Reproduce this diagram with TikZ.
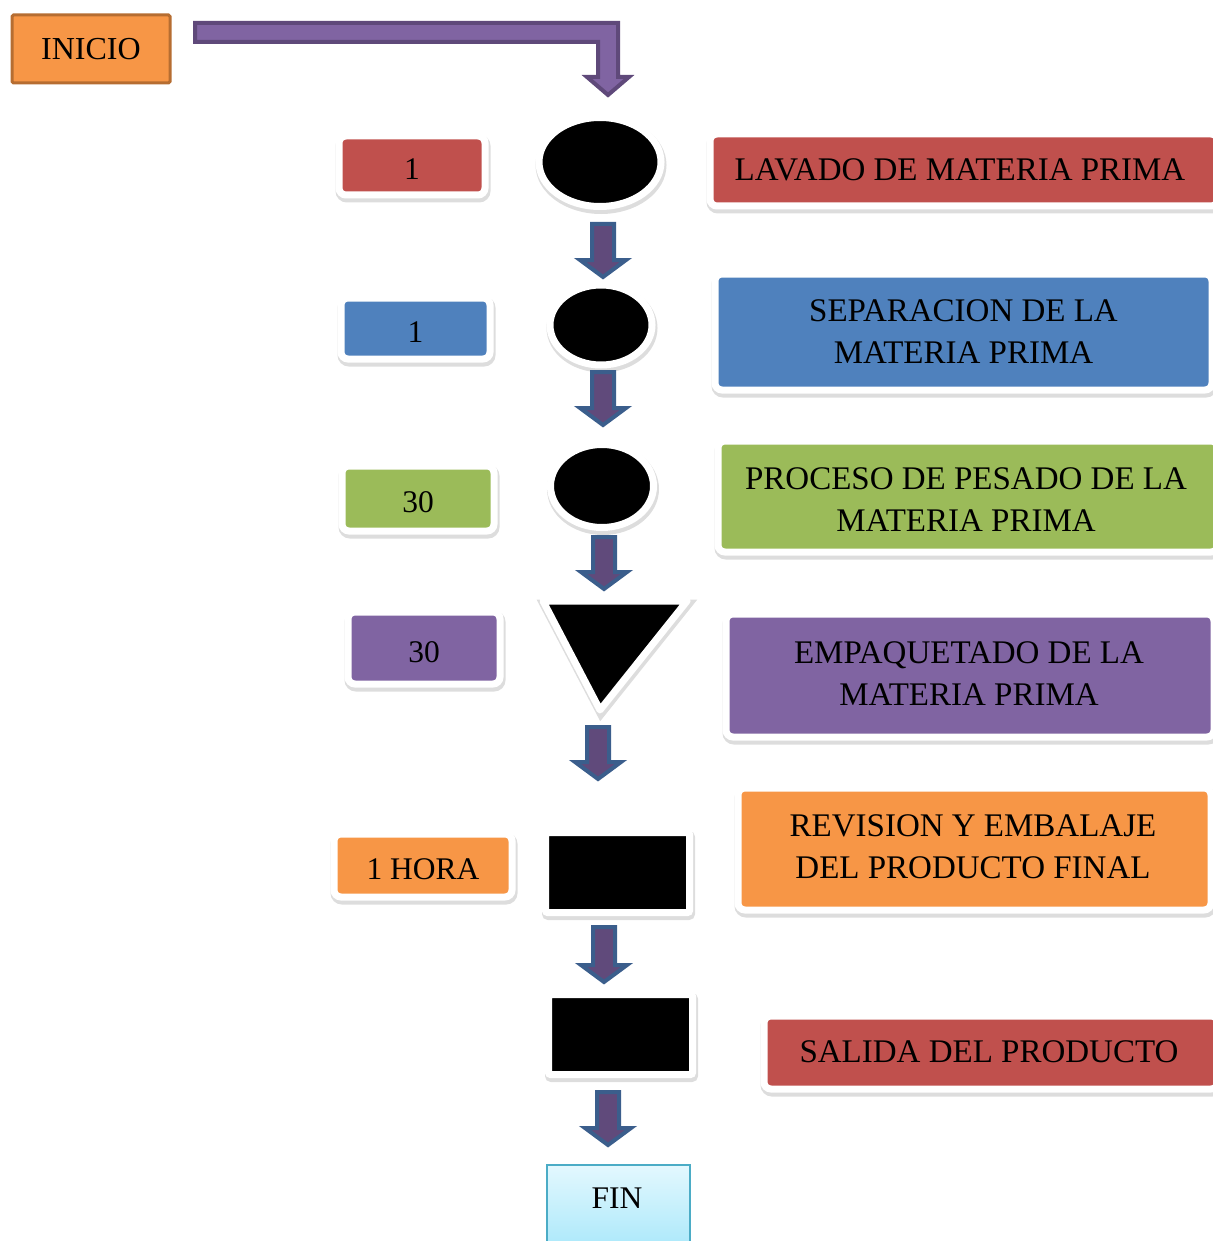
\documentclass[tikz,border=0pt]{standalone}
\usepackage{fontspec}
\setmainfont{Liberation Serif}
\usetikzlibrary{shapes.geometric,shadows}
\definecolor{cred}{HTML}{C0504D}
\definecolor{cblue}{HTML}{4F81BD}
\definecolor{cgreen}{HTML}{9BBB59}
\definecolor{cpurple}{HTML}{8064A2}
\definecolor{corange}{HTML}{F79646}
\definecolor{corangedk}{HTML}{B66D31}
\definecolor{cpurpledk}{HTML}{5F497A}
\definecolor{arrfill}{HTML}{604A7B}
\definecolor{arrdraw}{HTML}{3B5E8C}
\definecolor{finline}{HTML}{4BACC6}
\definecolor{fintop}{HTML}{E3F8FE}
\definecolor{finbot}{HTML}{A3E6FA}
\tikzset{
  shd/.style={drop shadow={shadow xshift=1pt, shadow yshift=-3pt, opacity=0.22, fill=black!60, draw=black!60, line width=9pt}},
  lbl/.style={rectangle, rounded corners=7pt, draw=white, line width=7pt, inner sep=0pt, font=\fontsize{33}{42}\selectfont, align=center, shd},
  lblL/.style={rectangle, rounded corners=7pt, draw=white, line width=7pt, inner sep=0pt, shd, font=\fontsize{31.5}{40}\selectfont, text height=28pt, text depth=0pt},
  blk/.style={fill=black, draw=white, line width=7pt, inner sep=0pt, shd},
  barrow/.style={fill=arrfill, draw=arrdraw, line width=4pt, miter limit=10},
  bentarrow/.style={fill=cpurple, draw=cpurpledk, line width=4pt, miter limit=10},
  txt/.style={font=\fontsize{33}{42}\selectfont, inner sep=0pt},
}
\newcommand\bkarrow[3]{%
  \draw[barrow] ({#1-11},{#2+2}) -- ({#1+11},{#2+2}) -- ({#1+11},{#3-20}) -- ({#1+23},{#3-20}) -- (#1,{#3-3}) -- ({#1-23},{#3-20}) -- ({#1-11},{#3-20}) -- cycle;}
\begin{document}
\begin{tikzpicture}[x=1pt,y=-1pt]
\useasboundingbox (0,0) rectangle (1212,1241);

% INICIO
\node[rectangle, rounded corners=1.5pt, fill=corange, draw=corangedk, line width=3pt,
      minimum width=158, minimum height=68, inner sep=0pt, font=\fontsize{32}{40}\selectfont] (inicio) at (91,49) {INICIO};

% bent arrow
\draw[bentarrow] (195,23) -- (618,23) -- (618,77) -- (629,77) -- (608,95) -- (587,77) -- (598,77) -- (598,42) -- (195,42) -- cycle;

% process shapes
\node[blk, ellipse, minimum width=122, minimum height=89] (e1) at (600,162) {};
\node[blk, ellipse, minimum width=102, minimum height=80] (e2) at (601,325) {};
\node[blk, ellipse, minimum width=103, minimum height=83] (e3) at (602,486) {};
\coordinate (tri) at (610,640);
\draw[blk, line join=round] (543,601) -- (687,601) -- (600,710) -- cycle;
\node[blk, rectangle, rounded corners=2pt, minimum width=144, minimum height=80] (r1) at (617.5,872.5) {};
\node[blk, rectangle, rounded corners=2pt, minimum width=144, minimum height=80] (r2) at (620.5,1034.5) {};

% FIN
\node[rectangle, draw=finline, line width=2pt, top color=fintop, bottom color=finbot,
      minimum width=143, minimum height=95, inner sep=0pt, anchor=north] (fin) at (618,1164) {};
\node[txt, font=\fontsize{31.5}{40}\selectfont] (fintxt) at (617,1198) {FIN};

% block arrows
\bkarrow{603}{222}{280}
\bkarrow{603}{370}{428}
\bkarrow{604}{535}{592}
\bkarrow{598}{725}{782}
\bkarrow{604}{925}{985}
\bkarrow{608}{1090}{1148}

% left time labels
\node[lblL, fill=cred,    minimum width=146, minimum height=59] (n1) at (412,165.5) {1};
\node[lblL, fill=cblue,   minimum width=149, minimum height=61] (n2) at (415.5,328.5) {1};
\node[lblL, fill=cgreen,  minimum width=152, minimum height=65] (n3) at (418,498.5) {30};
\node[lblL, fill=cpurple, minimum width=152, minimum height=72] (n4) at (424,648) {30};
\node[lblL, fill=corange, minimum width=178, minimum height=63] (n5) at (423,865.5) {1 HORA};

% right description labels
\node[lbl, fill=cred,    minimum width=508, minimum height=72] (d1) at (964,170) {};
\node[txt] (t1) at (960,170) {LAVADO DE MATERIA PRIMA};
\node[lbl, fill=cblue,   minimum width=497, minimum height=116] (d2) at (963.5,332) {SEPARACION DE LA\\MATERIA PRIMA};
\node[lbl, fill=cgreen,  minimum width=500, minimum height=111] (d3) at (968,496.5) {};
\node[txt, align=center] (t3) at (966,500) {PROCESO DE PESADO DE LA\\MATERIA PRIMA};
\node[lbl, fill=cpurple, minimum width=488, minimum height=123] (d4) at (970,675.5) {};
\node[txt, align=center] (t4) at (969,673.5) {EMPAQUETADO DE LA\\MATERIA PRIMA};
\node[lbl, fill=corange, minimum width=473, minimum height=122] (d5) at (974.5,849) {};
\node[txt, align=center] (t5) at (973,847) {REVISION Y EMBALAJE\\DEL PRODUCTO FINAL};
\node[lbl, fill=cred,    minimum width=454, minimum height=73] (d6) at (991,1052.5) {};
\node[txt] (t6) at (989,1052) {SALIDA DEL PRODUCTO};
\end{tikzpicture}
\end{document}
